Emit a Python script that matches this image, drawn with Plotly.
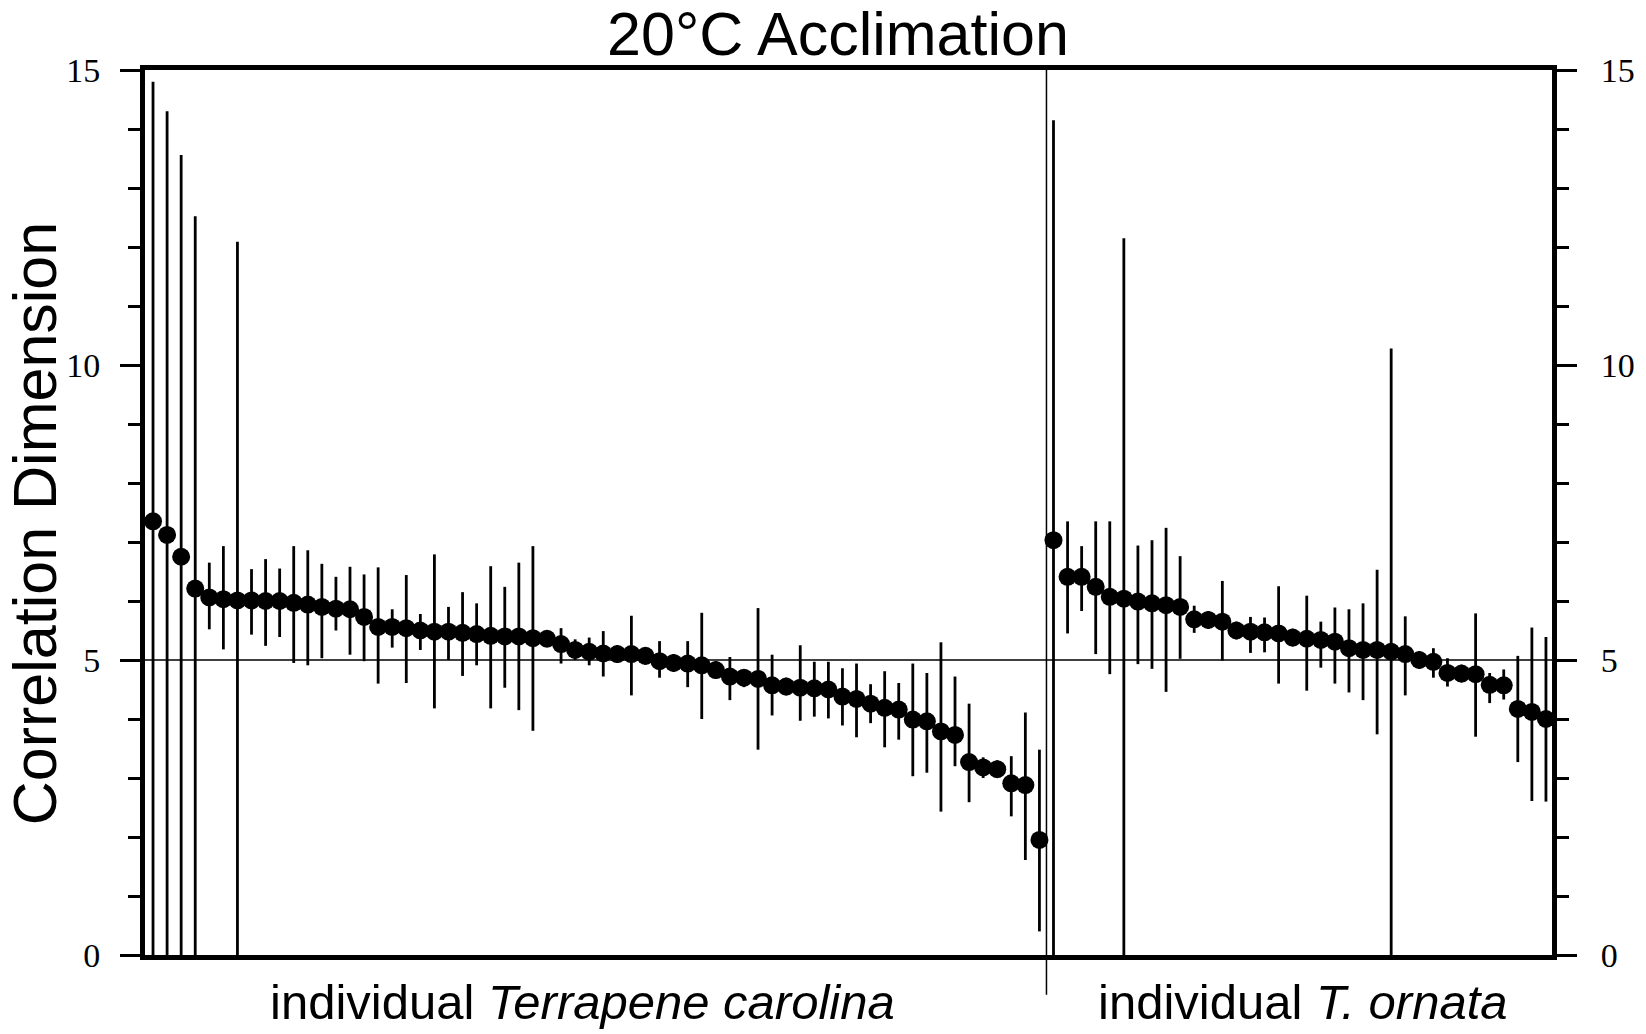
import plotly.graph_objects as go

# ---- data ----
carolina_dim = [7.35, 7.12, 6.75, 6.21, 6.06, 6.03, 6.01, 6.01, 6.00, 6.00,
                5.97, 5.94, 5.90, 5.87, 5.86, 5.73, 5.56, 5.56, 5.54, 5.50,
                5.48, 5.48, 5.46, 5.44, 5.41, 5.40, 5.40, 5.37, 5.36, 5.27,
                5.17, 5.14, 5.11, 5.10, 5.10, 5.07, 4.98, 4.95, 4.94, 4.91,
                4.83, 4.72, 4.70, 4.68, 4.57, 4.55, 4.53, 4.52, 4.50, 4.38,
                4.34, 4.26, 4.19, 4.16, 3.99, 3.96, 3.79, 3.73, 3.27, 3.18,
                3.15, 2.91, 2.88, 1.95]
carolina_upper = [14.80, 14.30, 13.56, 12.52, 6.65, 6.93, 12.09, 6.54, 6.71, 6.55,
                  6.93, 6.86, 6.63, 6.41, 6.58, 6.45, 6.57, 5.86, 6.44, 5.78,
                  6.79, 5.90, 6.15, 5.96, 6.59, 6.24, 6.65, 6.93, 5.50, 5.54,
                  5.35, 5.38, 5.49, 5.25, 5.75, 5.22, 5.32, 5.10, 5.32, 5.80,
                  4.98, 5.05, 4.84, 5.88, 5.09, 4.70, 5.25, 4.97, 4.97, 4.86,
                  4.94, 4.59, 4.81, 4.61, 4.94, 4.78, 5.30, 4.72, 4.26, 3.35,
                  3.30, 3.37, 4.11, 3.48]
carolina_lower = [0.00, 0.00, 0.00, 0.00, 5.52, 5.18, 0.00, 5.43, 5.24, 5.39,
                  4.95, 4.91, 5.03, 5.50, 5.09, 4.98, 4.60, 5.21, 4.61, 5.17,
                  4.18, 5.00, 4.73, 4.91, 4.18, 4.53, 4.15, 3.80, 5.22, 4.94,
                  5.00, 4.91, 4.72, 4.95, 4.40, 4.92, 4.70, 4.80, 4.54, 4.00,
                  4.68, 4.32, 4.54, 3.48, 4.06, 4.40, 3.97, 4.04, 4.01, 3.89,
                  3.69, 3.93, 3.52, 3.65, 3.03, 3.09, 2.43, 3.20, 2.59, 3.00,
                  3.00, 2.35, 1.61, 0.40]

ornata_dim = [7.03, 6.41, 6.41, 6.24, 6.07, 6.04, 5.99, 5.96, 5.93, 5.90,
              5.69, 5.68, 5.65, 5.50, 5.48, 5.47, 5.45, 5.38, 5.36, 5.34,
              5.31, 5.20, 5.17, 5.17, 5.14, 5.10, 5.00, 4.97, 4.78, 4.77,
              4.76, 4.58, 4.57, 4.17, 4.12, 4.00]
ornata_upper = [14.15, 7.35, 6.93, 7.35, 7.35, 12.15, 6.94, 7.03, 7.24, 6.76,
                5.92, 5.83, 6.34, 5.65, 5.73, 5.72, 6.25, 5.53, 6.09, 5.65,
                5.89, 5.86, 5.96, 6.53, 10.28, 5.74, 5.15, 5.20, 5.03, 4.92,
                5.79, 4.78, 4.84, 5.07, 5.55, 5.39]
ornata_lower = [0.00, 5.45, 5.83, 5.10, 4.76, 0.00, 4.93, 4.85, 4.46, 5.02,
                5.46, 5.53, 4.99, 5.35, 5.12, 5.13, 4.60, 5.23, 4.48, 4.87,
                4.60, 4.45, 4.32, 3.74, 0.00, 4.40, 4.85, 4.70, 4.55, 4.62,
                3.70, 4.27, 4.33, 3.27, 2.61, 2.60]

group_labels = ["individual <i>Terrapene carolina</i>", "individual <i>T. ornata</i>"]
y_ticks = [0, 5, 10, 15]
reference_level = 5
title_text = "20°C Acclimation"
y_title = "Correlation Dimension"

# ---- derived positions ----
n_left = len(carolina_dim)
n_right = len(ornata_dim)
x_left = list(range(n_left))
x_right = [n_left + i for i in range(n_right)]
x_range = [-0.57, n_left + n_right - 1 + 0.43]
divider_x = n_left - 0.5


def err(vals, up, lo):
    return ([u - v for u, v in zip(up, vals)], [v - l for v, l in zip(vals, lo)])


lu, ll = err(carolina_dim, carolina_upper, carolina_lower)
ru, rl = err(ornata_dim, ornata_upper, ornata_lower)

fig = go.Figure()
for xs, ys, up, lo in [(x_left, carolina_dim, lu, ll), (x_right, ornata_dim, ru, rl)]:
    fig.add_trace(go.Scatter(
        x=xs, y=ys, mode="markers",
        marker=dict(color="black", size=18, line=dict(width=0)),
        error_y=dict(type="data", symmetric=False, array=up, arrayminus=lo,
                     color="black", thickness=2.8, width=0),
        showlegend=False, hoverinfo="skip", cliponaxis=False,
    ))
# invisible trace to anchor the right axis
fig.add_trace(go.Scatter(x=[x_left[0]], y=[carolina_dim[0]], yaxis="y2",
                         mode="markers", marker=dict(opacity=0),
                         showlegend=False, hoverinfo="skip"))

tick_font = dict(family="Liberation Serif, Times New Roman, serif", size=34, color="black")
yaxis_common = dict(
    range=[0, 15], tickvals=y_ticks, ticktext=[str(t) for t in y_ticks],
    ticks="outside", ticklen=20, tickwidth=3, tickcolor="black",
    minor=dict(dtick=1, ticks="outside", ticklen=12, tickwidth=3, tickcolor="black"),
    showline=True, linewidth=5, linecolor="black", automargin=False,
    showgrid=False, zeroline=False, tickfont=tick_font,
)

fig.update_layout(
    width=1646, height=1034,
    margin=dict(l=145, r=94, t=70, b=79, autoexpand=False),
    paper_bgcolor="white", plot_bgcolor="white",
    xaxis=dict(range=x_range, showline=True, linewidth=5, linecolor="black",
               mirror=True, showticklabels=False, ticks="", showgrid=False,
               zeroline=False, automargin=False),
    yaxis=dict(side="left", ticklabelstandoff=13, **yaxis_common),
    yaxis2=dict(side="right", overlaying="y", ticklabelstandoff=17, **yaxis_common),
    title=dict(text=title_text, x=838 / 1646, xref="container", xanchor="center",
               y=1 - 34 / 1034, yref="container", yanchor="middle",
               font=dict(family="Liberation Sans, Arial, sans-serif", size=61, color="black")),
    shapes=[
        dict(type="line", xref="paper", yref="y", x0=0, x1=1,
             y0=reference_level, y1=reference_level,
             line=dict(color="black", width=1.5)),
        dict(type="line", xref="paper", yref="paper",
             x0=(divider_x - x_range[0]) / (x_range[1] - x_range[0]),
             x1=(divider_x - x_range[0]) / (x_range[1] - x_range[0]),
             y0=-0.045, y1=1, line=dict(color="black", width=1.5)),
    ],
    annotations=[
        dict(text=y_title, textangle=-90, xref="paper", yref="paper",
             x=-0.078, y=0.487, xanchor="center", yanchor="middle", showarrow=False,
             font=dict(family="Liberation Sans, Arial, sans-serif", size=61, color="black")),
        dict(text=group_labels[0], xref="x", yref="paper",
             x=(x_left[0] + x_left[-1]) / 2 - 1.0, y=-0.053, xanchor="center", yanchor="middle",
             showarrow=False,
             font=dict(family="Liberation Sans, Arial, sans-serif", size=49, color="black")),
        dict(text=group_labels[1], xref="x", yref="paper",
             x=(x_right[0] + x_right[-1]) / 2 + 0.25, y=-0.053, xanchor="center", yanchor="middle",
             showarrow=False,
             font=dict(family="Liberation Sans, Arial, sans-serif", size=49, color="black")),
    ],
)

fig.write_html("out.html")
